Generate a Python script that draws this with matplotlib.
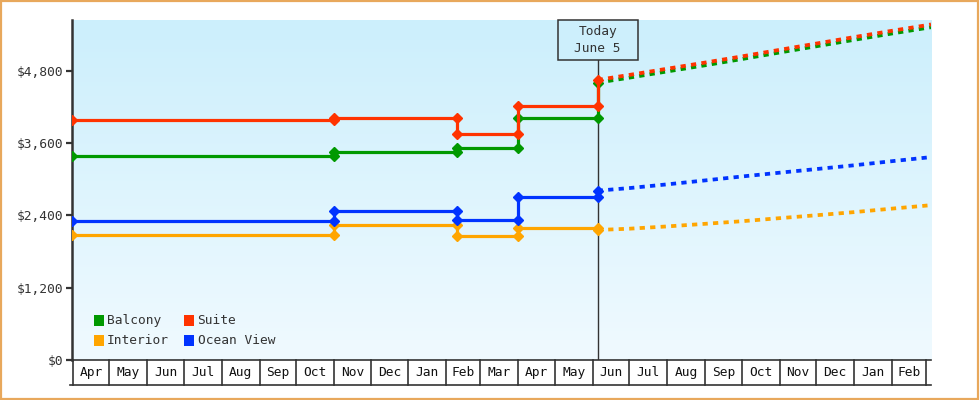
import matplotlib
matplotlib.use("Agg")
import matplotlib.pyplot as plt
import matplotlib.dates as mdates
import numpy as np
import pandas as pd
from matplotlib.patches import Rectangle
from matplotlib.transforms import blended_transform_factory

# ---------------- data ----------------
hist_dates = ["2025-03-31", "2025-11-01", "2026-02-10", "2026-04-01", "2026-06-05"]
balcony_hist = [3385, 3446, 3512, 4010, 4601]
suite_hist = [3982, 4010, 3755, 4209, 4646]
interior_hist = [2074, 2237, 2063, 2196, 2157]
ocean_hist = [2312, 2472, 2318, 2700, 2809]

fc_dates = ["2026-06-05", "2026-07-01", "2026-08-01", "2026-09-01", "2026-10-01",
            "2026-11-01", "2026-12-01", "2027-01-01", "2027-02-01", "2027-03-01",
            "2027-03-05"]
balcony_fc = [4601, 4684, 4787, 4889, 4992, 5101, 5204, 5311, 5416, 5507, 5520]
suite_fc = [4646, 4729, 4832, 4934, 5036, 5145, 5249, 5356, 5461, 5552, 5566]
interior_fc = [2157, 2178, 2216, 2259, 2302, 2353, 2401, 2453, 2511, 2561, 2568]
ocean_fc = [2809, 2852, 2914, 2979, 3044, 3107, 3167, 3230, 3298, 3357, 3365]

month_labels = ["Apr", "May", "Jun", "Jul", "Aug", "Sep", "Oct", "Nov", "Dec", "Jan",
                "Feb", "Mar", "Apr", "May", "Jun", "Jul", "Aug", "Sep", "Oct", "Nov",
                "Dec", "Jan", "Feb"]
y_ticks = [0, 1200, 2400, 3600, 4800]
y_tick_labels = ["$0", "$1,200", "$2,400", "$3,600", "$4,800"]
today_date = "2026-06-05"
today_text = "Today\nJune 5"

series = [
    ("Balcony", "#009900", balcony_hist, balcony_fc),
    ("Interior", "#FFA500", interior_hist, interior_fc),
    ("Ocean View", "#0033FF", ocean_hist, ocean_fc),
    ("Suite", "#FF3300", suite_hist, suite_fc),
]
legend_order = [("Balcony", "#009900"), ("Suite", "#FF3300"),
                ("Interior", "#FFA500"), ("Ocean View", "#0033FF")]

# ---------------- figure ----------------
W, H = 980, 400
FONT = "DejaVu Sans Mono"
FS = 9.3
TXT = "#333333"
fig = plt.figure(figsize=(W / 100, H / 100), dpi=100)
fig.patch.set_facecolor("white")

def fx(x):
    return x / W

def fy(y):
    return 1 - y / H

L, R, T, B = 71.5, 931, 20, 360
ax = fig.add_axes([fx(L), fy(B), fx(R) - fx(L), (B - T) / H])
ax.set_facecolor("none")

# gradient background
grad = np.linspace(0, 1, 256).reshape(-1, 1)
top_c = np.array([204, 239, 252]) / 255
bot_c = np.array([240, 250, 255]) / 255
img = top_c[None, None, :] * (1 - grad[:, :, None]) + bot_c[None, None, :] * grad[:, :, None]
ax.imshow(img, extent=[0, 1, 0, 1], transform=ax.transAxes, aspect="auto", zorder=0)

def step_points(dates, vals):
    d = pd.to_datetime(dates)
    xs, ys = [d[0]], [vals[0]]
    for i in range(1, len(d)):
        xs += [d[i], d[i]]
        ys += [vals[i - 1], vals[i]]
    return xs, ys

for name, col, hv, fv in series:
    xs, ys = step_points(hist_dates, hv)
    ax.plot(xs, ys, color=col, lw=2.3, marker="D", ms=5.5, mec=col, mfc=col,
            zorder=3, solid_joinstyle="miter")
    ax.plot(pd.to_datetime(fc_dates), fv, color=col, lw=2.7,
            linestyle=(0, (1.4, 1.4)), zorder=3, dash_capstyle="butt")

x0 = mdates.date2num(pd.Timestamp("2025-03-31"))
x1 = mdates.date2num(pd.Timestamp("2027-03-05"))
ax.set_xlim(x0, x1)
ax.set_ylim(0, 5640)

ax.set_yticks(y_ticks)
ax.set_yticklabels(y_tick_labels, fontfamily=FONT, fontsize=FS, color=TXT)
ax.tick_params(axis="y", length=4, width=1.6, color=TXT, pad=2)
ax.set_xticks([])
for s in ["top", "right"]:
    ax.spines[s].set_visible(False)
ax.spines["left"].set_color(TXT)
ax.spines["left"].set_linewidth(1.8)
ax.spines["bottom"].set_color(TXT)
ax.spines["bottom"].set_linewidth(1.2)

# month cells below plot
month_starts = pd.date_range("2025-04-01", "2027-03-01", freq="MS")
btr = blended_transform_factory(ax.transData, ax.transAxes)
cell_h = 25 / (B - T)
for i, ms_ in enumerate(month_starts):
    xn = mdates.date2num(ms_)
    ax.plot([xn, xn], [0, -cell_h], color=TXT, lw=1.2, transform=btr, clip_on=False)
    if i < len(month_labels):
        xm = (xn + mdates.date2num(month_starts[i + 1])) / 2
        ax.text(xm, -cell_h / 2, month_labels[i], transform=btr, ha="center", va="center",
                fontfamily=FONT, fontsize=FS, color="#111111")
ax.plot([x0 - 1.5, x1], [-cell_h, -cell_h], color=TXT, lw=1.2, transform=btr, clip_on=False)

# today marker
td = mdates.date2num(pd.Timestamp(today_date))
box_bot_ax = (B - 60) / (B - T)
ax.plot([td, td], [0, box_bot_ax], color=TXT, lw=1.0, transform=btr, zorder=2)
box_w_ax = 80 / (R - L)
td_ax = (td - x0) / (x1 - x0)
ax.add_patch(Rectangle((td_ax - box_w_ax / 2, box_bot_ax), box_w_ax, 1 - box_bot_ax,
                       transform=ax.transAxes, fc="#CDEFFC", ec=TXT, lw=1.1, zorder=5,
                       clip_on=False))
ax.text(td, (1 + box_bot_ax) / 2, today_text, transform=btr, ha="center", va="center",
        fontfamily=FONT, fontsize=FS, color=TXT, linespacing=1.35, zorder=6)

# legend (manual)
rows = [320.5, 340.5]
cols = [(93.5, 106.5), (183.5, 197.5)]
for idx, (name, col) in enumerate(legend_order):
    r, c = idx // 2, idx % 2
    sx, tx = cols[c]
    fig.patches.append(Rectangle((fx(sx), fy(rows[r] + 5.3)), 10.5 / W, 10.5 / H,
                                 transform=fig.transFigure, fc=col, ec="none", zorder=6))
    fig.text(fx(tx), fy(rows[r]), name, ha="left", va="center", fontfamily=FONT,
             fontsize=FS, color=TXT, zorder=6)

# outer border
fig.patches.append(Rectangle((0.001, 0.002), 0.997, 0.995, transform=fig.transFigure,
                             fill=False, ec="#E8A85C", lw=1.6, zorder=10))

fig.savefig("out.png", dpi=100)
